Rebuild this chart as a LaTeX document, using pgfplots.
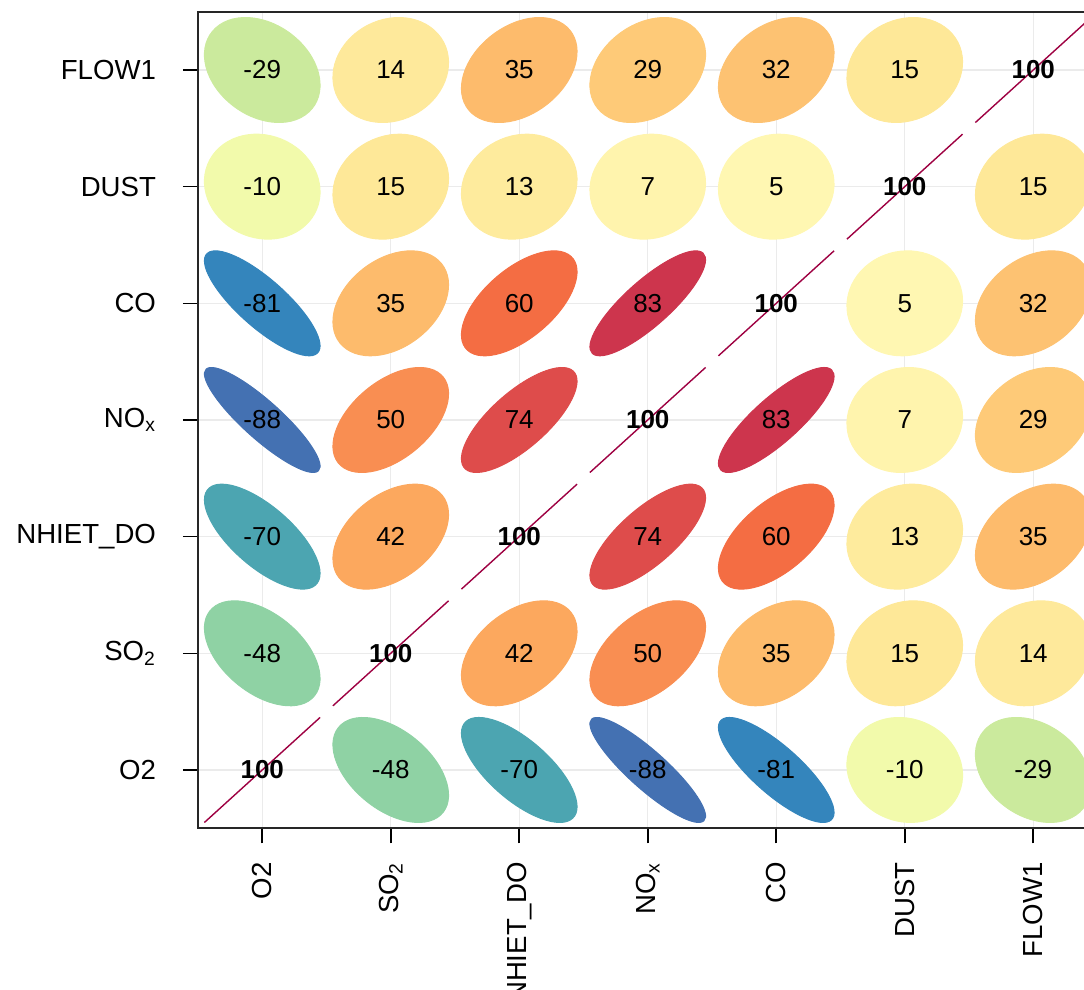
\documentclass[border=0pt]{standalone}
\usepackage{fontspec}
\setmainfont{Liberation Sans}
\usepackage{pgfplots}
\pgfplotsset{compat=1.18}
\usepackage{pgfplotstable}

\pgfplotstableread{
x y r
2 1 -48
3 1 -70
4 1 -88
5 1 -81
6 1 -10
7 1 -29
1 2 -48
3 2 42
4 2 50
5 2 35
6 2 15
7 2 14
1 3 -70
2 3 42
4 3 74
5 3 60
6 3 13
7 3 35
1 4 -88
2 4 50
3 4 74
5 4 83
6 4 7
7 4 29
1 5 -81
2 5 35
3 5 60
4 5 83
6 5 5
7 5 32
1 6 -10
2 6 15
3 6 13
4 6 7
5 6 5
7 6 15
1 7 -29
2 7 14
3 7 35
4 7 29
5 7 32
6 7 15
}\offdiag

\pgfplotstableread{
x y r
1 1 100
2 2 100
3 3 100
4 4 100
5 5 100
6 6 100
7 7 100
}\diag

\pgfdeclareplotmark{correll}{%
  \pgfplotscolormapdefinemappedcolor{\pgfplotspointmetatransformed}%
  \pgfsetfillcolor{mapped color}%
  \pgfsetstrokecolor{mapped color}%
  \pgfmathsetmacro\ca{0.45*sqrt((1+\rr/100)/2)}%
  \pgfmathsetmacro\sa{0.45*sqrt((1-\rr/100)/2)}%
  \pgfpathellipse{\pgfpointorigin}{\pgfpoint{\ca*64.25pt}{\ca*58.33pt}}{\pgfpoint{-\sa*64.25pt}{\sa*58.33pt}}%
  \pgfusepathqfillstroke}

\begin{document}
\begin{tikzpicture}
\begin{axis}[
  name=ax,
  x=64.25pt, y=58.33pt,
  xmin=0.5, xmax=7.5, ymin=0.5, ymax=7.5,
  xtick={1,...,7}, ytick={1,...,7},
  xticklabels={O2, SO\textsubscript{2}, NHIET\_DO, NO\textsubscript{x}, CO, DUST, FLOW1},
  yticklabels={O2, SO\textsubscript{2}, NHIET\_DO, NO\textsubscript{x}, CO, DUST, FLOW1},
  tick pos=left,
  tick align=outside,
  major tick length=7.5pt,
  tick style={black, line width=0.8pt},
  axis line style={line width=0.9pt, black!85},
  grid=major,
  grid style={line width=0.7pt, color=black!8},
  tick label style={font=\fontsize{13.8}{16}\selectfont, text=black},
  xticklabel style={rotate=90, anchor=east, xshift=-6pt},
  yticklabel style={anchor=east, xshift=-10pt},
  point meta min=-100, point meta max=100,
  colormap={spec}{rgb255=(94,79,162) rgb255=(50,136,189) rgb255=(102,194,165) rgb255=(171,221,164) rgb255=(230,245,152) rgb255=(255,255,191) rgb255=(254,224,139) rgb255=(253,174,97) rgb255=(244,109,67) rgb255=(213,62,79) rgb255=(158,1,66)},
]
\addplot[
  scatter, only marks, mark=correll, line width=0.5pt,
  point meta=explicit,
  visualization depends on={\thisrow{r} \as \rr},
  nodes near coords={\pgfmathprintnumber[assume math mode=true]{\pgfplotspointmeta}},
  every node near coord/.append style={anchor=center, text=black, font=\fontsize{13}{15}\selectfont},
] table[x=x, y=y, meta=r] {\offdiag};
\addplot[
  scatter, only marks, mark=correll, line width=0.7pt,
  point meta=explicit,
  visualization depends on={\thisrow{r} \as \rr},
  nodes near coords={\pgfmathprintnumber[assume math mode=true]{\pgfplotspointmeta}},
  every node near coord/.append style={anchor=center, text=black, font=\fontsize{13}{15}\selectfont\bfseries},
] table[x=x, y=y, meta=r] {\diag};
\end{axis}
\pgfresetboundingbox
\path ([shift={(-99pt,-80.85pt)}]ax.south west) rectangle ([shift={(443pt,414.15pt)}]ax.south west);
\end{tikzpicture}
\end{document}
